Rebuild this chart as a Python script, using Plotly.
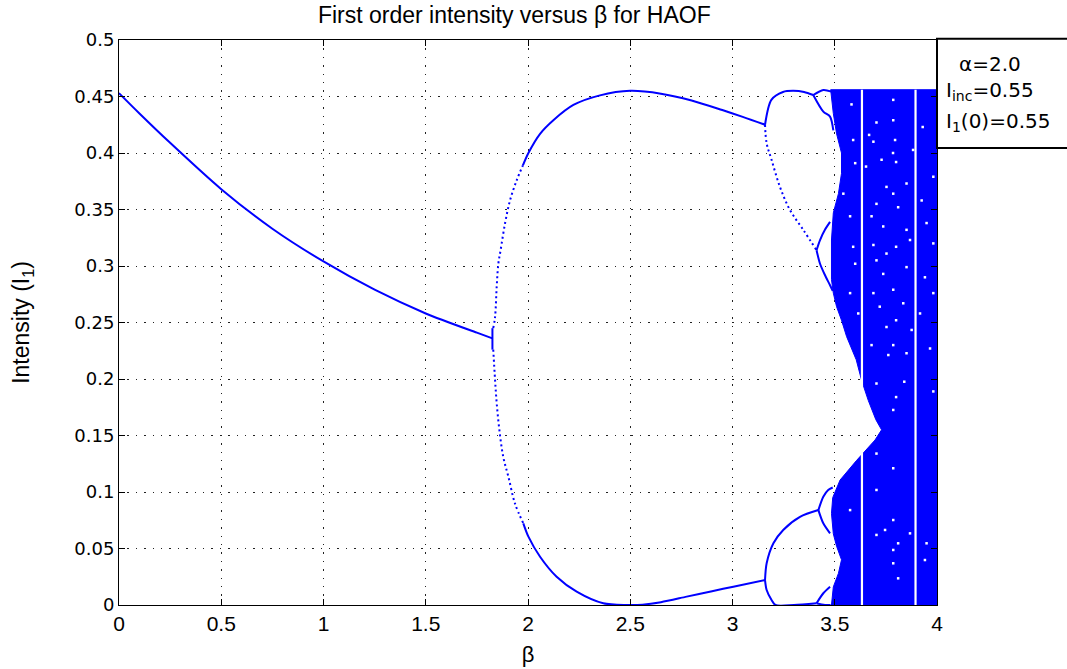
import plotly.graph_objects as go

# ---- branch values (beta, first-order intensity) ----
fixed_beta = [0.0, 0.1, 0.25, 0.5, 0.75, 1.0, 1.25, 1.5, 1.75, 1.826]
fixed_I = [0.453, 0.435, 0.409, 0.368, 0.333, 0.304, 0.279, 0.258, 0.241, 0.236]

jump_beta = [1.826, 1.826]
jump_I = [0.226, 0.245]

# period-2 branches: steep (sparse) start, then dense part
p2_up_start_beta = [1.83, 1.839, 1.847, 1.855, 1.866, 1.888, 1.912, 1.945, 1.975]
p2_up_start_I = [0.245, 0.255, 0.282, 0.302, 0.314, 0.338, 0.358, 0.376, 0.389]
p2_up_beta = [1.975, 2.002, 2.059, 2.124, 2.222, 2.352, 2.5, 2.65, 2.8, 2.95, 3.05, 3.159]
p2_up_I = [0.389, 0.400, 0.417, 0.429, 0.4425, 0.451, 0.455, 0.4525, 0.4465, 0.438, 0.432, 0.425]

p2_low_start_beta = [1.83, 1.839, 1.847, 1.86, 1.879, 1.904, 1.936, 1.977]
p2_low_start_I = [0.226, 0.199, 0.1785, 0.155, 0.131, 0.1136, 0.090, 0.0723]
p2_low_beta = [1.977, 2.002, 2.059, 2.14, 2.238, 2.368, 2.482, 2.56, 2.65, 2.776, 2.9, 3.004, 3.159]
p2_low_I = [0.0723, 0.0605, 0.0427, 0.025, 0.0118, 0.0015, 0.0, 0.0003, 0.0025, 0.0074, 0.0122, 0.0162, 0.0221]

# period-4 branches
p4_a_beta = [3.159, 3.19, 3.247, 3.296, 3.35, 3.395]
p4_a_I = [0.425, 0.447, 0.454, 0.455, 0.454, 0.4513]
p4_b_beta = [3.159, 3.167, 3.191, 3.232, 3.281, 3.346, 3.411]
p4_b_I = [0.425, 0.4086, 0.394, 0.370, 0.3496, 0.332, 0.314]
p4_c_beta = [3.159, 3.167, 3.2, 3.248, 3.33, 3.42]
p4_c_I = [0.0221, 0.0369, 0.0546, 0.0664, 0.078, 0.084]
p4_d_beta = [3.159, 3.167, 3.191, 3.21, 3.3, 3.411]
p4_d_I = [0.0221, 0.0133, 0.0044, 0.0, 0.0, 0.0015]

# period-8 loops
p8_1_beta = [3.395, 3.444, 3.484]
p8_1_I = [0.4513, 0.4558, 0.4543]
p8_2_beta = [3.395, 3.444, 3.477, 3.493]
p8_2_I = [0.4513, 0.4366, 0.4322, 0.420]
p8_3_beta = [3.411, 3.428, 3.452, 3.477]
p8_3_I = [0.314, 0.323, 0.332, 0.339]
p8_4_beta = [3.411, 3.428, 3.452, 3.477, 3.49]
p8_4_I = [0.314, 0.302, 0.292, 0.283, 0.278]
p8_5_beta = [3.42, 3.444, 3.468, 3.49]
p8_5_I = [0.084, 0.0958, 0.1018, 0.104]
p8_6_beta = [3.42, 3.444, 3.477]
p8_6_I = [0.084, 0.0723, 0.0634]
p8_7_beta = [3.411, 3.444, 3.477]
p8_7_I = [0.0015, 0.0104, 0.0162]
p8_8_beta = [3.411, 3.452, 3.48]
p8_8_I = [0.0015, 0.0, 0.0]

# outline of the chaotic band
band_beta = [3.48, 4.0, 4.0, 3.484, 3.493, 3.518, 3.533, 3.509, 3.493, 3.484, 3.49,
             3.513, 3.526, 3.607, 3.697, 3.729, 3.701, 3.664, 3.631, 3.605, 3.558,
             3.533, 3.509, 3.493, 3.484, 3.484, 3.493, 3.518, 3.533, 3.533, 3.509,
             3.493, 3.48]
band_I = [0.456, 0.456, 0.0, 0.0, 0.016, 0.028, 0.040, 0.052, 0.063, 0.081, 0.095,
          0.106, 0.1106, 0.128, 0.146, 0.155, 0.164, 0.181, 0.199, 0.217, 0.2375,
          0.252, 0.264, 0.276, 0.288, 0.323, 0.347, 0.364, 0.382, 0.400, 0.417,
          0.435, 0.456]

# periodic windows inside the band
window_beta = [3.633, 3.895]
window_top = 0.456

# isolated gaps inside the chaotic band
gap_beta = [3.582, 3.786, 3.786, 3.704, 3.93, 3.668, 3.795, 3.689, 3.59, 3.785, 3.883,
            3.729, 3.653, 3.80, 3.60, 3.851, 3.753, 3.786, 3.704, 3.81, 3.925, 3.982,
            3.542, 3.575, 3.68, 3.737, 3.851, 3.949, 3.59, 3.689, 3.753, 3.80, 3.868,
            3.982, 3.60, 3.704, 3.737, 3.851, 3.941, 3.575, 3.689, 3.786, 3.72, 3.835,
            3.917, 3.615, 3.753, 3.80, 3.982, 3.876, 3.68, 3.786, 3.851, 3.762, 3.966,
            3.704, 3.80, 3.84, 3.786, 3.982, 3.704, 3.786, 3.704, 3.575, 3.786, 3.746,
            3.81, 3.704, 3.786, 3.941, 3.786, 3.868, 3.81, 3.949]
gap_I = [0.443, 0.447, 0.429, 0.427, 0.423, 0.416, 0.4115, 0.41, 0.4115, 0.40, 0.4027,
         0.394, 0.388, 0.392, 0.391, 0.373, 0.370, 0.364, 0.355, 0.352, 0.358, 0.379,
         0.364, 0.344, 0.344, 0.335, 0.332, 0.338, 0.317, 0.3186, 0.311, 0.317, 0.323,
         0.32, 0.302, 0.305, 0.293, 0.299, 0.29, 0.276, 0.276, 0.279, 0.264, 0.267,
         0.258, 0.258, 0.246, 0.252, 0.276, 0.2434, 0.230, 0.230, 0.2228, 0.2212, 0.227,
         0.196, 0.184, 0.1976, 0.1726, 0.189, 0.134, 0.121, 0.1018, 0.084, 0.0752, 0.0664,
         0.0546, 0.062, 0.0487, 0.0398, 0.0369, 0.0634, 0.0236, 0.0546]

BLUE = "#0000FF"
FONT = "Liberation Sans, Arial, sans-serif"
WIDE = "DejaVu Sans, Verdana, sans-serif"

fig = go.Figure()

# chaotic band
fig.add_trace(go.Scatter(x=band_beta, y=band_I, mode="lines", fill="toself",
                         fillcolor=BLUE, line=dict(color=BLUE, width=1)))

for wb in window_beta:
    fig.add_trace(go.Scatter(x=[wb, wb], y=[0, window_top], mode="lines",
                             line=dict(color="white", width=2.2)))

fig.add_trace(go.Scatter(x=gap_beta, y=gap_I, mode="markers",
                         marker=dict(color="white", size=2.5, symbol="square",
                                     line=dict(width=0))))

solid_branches = [
    (fixed_beta, fixed_I), (jump_beta, jump_I),
    (p2_up_beta, p2_up_I), (p2_low_beta, p2_low_I),
    (p4_a_beta, p4_a_I), (p4_c_beta, p4_c_I), (p4_d_beta, p4_d_I),
    (p8_1_beta, p8_1_I), (p8_2_beta, p8_2_I), (p8_3_beta, p8_3_I),
    (p8_4_beta, p8_4_I), (p8_5_beta, p8_5_I), (p8_6_beta, p8_6_I),
    (p8_7_beta, p8_7_I), (p8_8_beta, p8_8_I),
]
for bx, by in solid_branches:
    fig.add_trace(go.Scatter(x=bx, y=by, mode="lines", line_shape="spline",
                             line=dict(color=BLUE, width=2, smoothing=0.8)))

dotted_branches = [(p2_up_start_beta, p2_up_start_I),
                   (p2_low_start_beta, p2_low_start_I),
                   (p4_b_beta, p4_b_I)]
for bx, by in dotted_branches:
    fig.add_trace(go.Scatter(x=bx, y=by, mode="lines", line_shape="spline",
                             line=dict(color=BLUE, width=2, dash="2px,3px")))

axis_common = dict(showline=True, linecolor="black", linewidth=1, mirror="ticks",
                   ticks="inside", ticklen=6, tickcolor="black",
                   showgrid=True, gridcolor="#222222", gridwidth=1.4,
                   griddash="1.4px,7px", zeroline=False, automargin=False)

fig.update_layout(
    width=1067, height=669,
    margin=dict(l=119, r=130, t=40, b=64),
    paper_bgcolor="white", plot_bgcolor="white",
    showlegend=False,
    font=dict(family=FONT, color="black"),
    title=dict(text="First order intensity versus β for HAOF",
               x=0.482, xanchor="center", y=0.977, yanchor="middle",
               font=dict(size=23, family=FONT, color="black")),
    xaxis=dict(range=[0, 4], dtick=0.5, tick0=0,
               tickfont=dict(size=21, family=FONT),
               title=dict(text="β", font=dict(size=22, family=FONT), standoff=12),
               **axis_common),
    yaxis=dict(range=[0, 0.5], dtick=0.05, tick0=0,
               tickfont=dict(size=18, family=WIDE),
               title=dict(text="Intensity (I<sub>1</sub>)",
                          font=dict(size=23, family=FONT), standoff=38),
               **axis_common),
)

# parameter box at the top right
fig.add_shape(type="rect", xref="paper", yref="paper",
              x0=1.0, x1=1.2, y0=0.809, y1=1.002,
              line=dict(color="black", width=2), fillcolor="white", layer="above")

box_lines = ["α=2.0", "I<sub>inc</sub>=0.55", "I<sub>1</sub>(0)=0.55"]
box_y = [0.958, 0.910, 0.855]
box_x = [1.024, 1.008, 1.008]
for txt, yy, xx in zip(box_lines, box_y, box_x):
    fig.add_annotation(text=txt, xref="paper", yref="paper", x=xx, y=yy,
                       xanchor="left", yanchor="middle", showarrow=False,
                       font=dict(size=20, family=WIDE, color="black"))

fig.write_html("out.html")
